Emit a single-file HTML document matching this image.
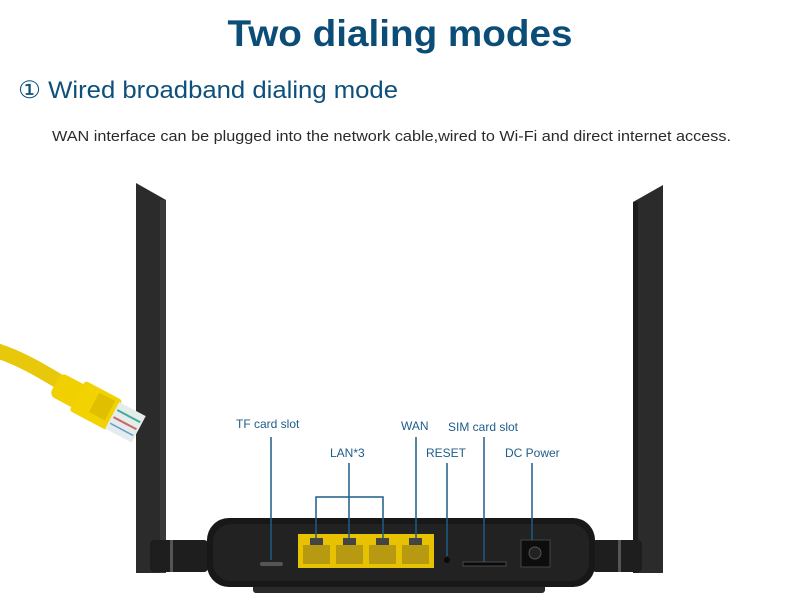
<!DOCTYPE html>
<html><head><meta charset="utf-8"><style>
html,body{margin:0;padding:0;background:#fff;}
svg{display:block;}
</style></head><body>
<svg width="800" height="616" viewBox="0 0 800 616" xmlns="http://www.w3.org/2000/svg" font-family="Liberation Sans, Arial, sans-serif">
<rect width="800" height="616" fill="#fff"/>
<text x="400" y="46" text-anchor="middle" font-size="37" font-weight="bold" fill="#0c4d78" textLength="345" lengthAdjust="spacingAndGlyphs">Two dialing modes</text>
<text x="18" y="98" font-size="24" fill="#0e507c" textLength="380" lengthAdjust="spacingAndGlyphs">① Wired broadband dialing mode</text>
<text x="52" y="141" font-size="15" fill="#2a2a2a" textLength="679" lengthAdjust="spacingAndGlyphs">WAN interface can be plugged into the network cable,wired to Wi-Fi and direct internet access.</text>

<!-- antennas -->
<polygon points="136,183 166,200 166,573 136,573" fill="#2b2b2b"/>
<rect x="160" y="200" width="6" height="373" fill="#3a3a3a"/>
<polygon points="633,202 663,185 663,573 633,573" fill="#2b2b2b"/>
<rect x="633" y="202" width="5" height="371" fill="#1c1c1c"/>
<!-- hinges -->
<rect x="150" y="540" width="58" height="32" rx="4" fill="#1e1e1e"/>
<rect x="170" y="540" width="3" height="32" fill="#555"/>
<rect x="592" y="540" width="50" height="32" rx="4" fill="#1e1e1e"/>
<rect x="618" y="540" width="3" height="32" fill="#555"/>

<!-- cable -->
<path d="M-5,350 C20,358 40,370 60,382" stroke="#e8c80a" stroke-width="15" fill="none"/>
<g transform="translate(95,405) rotate(28)">
<rect x="-45" y="-13" width="30" height="26" rx="6" fill="#f0d000"/>
<rect x="-20" y="-17" width="42" height="34" rx="3" fill="#f2d200"/>
<rect x="-2" y="-13" width="18" height="22" fill="#e0bf00"/>
<rect x="20" y="-14" width="30" height="30" fill="#e4ecec"/>
<line x1="22" y1="-6" x2="48" y2="-6" stroke="#4a9" stroke-width="2"/>
<line x1="22" y1="2" x2="48" y2="2" stroke="#c66" stroke-width="2"/>
<line x1="22" y1="9" x2="48" y2="9" stroke="#69c" stroke-width="1.5"/>
</g>

<!-- router body -->
<rect x="253" y="584" width="292" height="9" rx="3" fill="#2a2a2a"/>
<rect x="207" y="518" width="388" height="69" rx="22" fill="#181818"/>
<rect x="213" y="524" width="376" height="57" rx="18" fill="#222"/>
<rect x="298" y="534" width="136" height="34" fill="#e6c200"/>
<g fill="#b89a12">
<rect x="303" y="545" width="27" height="19"/><rect x="336" y="545" width="27" height="19"/>
<rect x="369" y="545" width="27" height="19"/><rect x="402" y="545" width="27" height="19"/>
</g>
<g fill="#444">
<rect x="310" y="538" width="13" height="7"/><rect x="343" y="538" width="13" height="7"/>
<rect x="376" y="538" width="13" height="7"/><rect x="409" y="538" width="13" height="7"/>
</g>
<rect x="260" y="562" width="23" height="4" rx="2" fill="#555"/>
<circle cx="447" cy="560" r="3" fill="#0a0a0a"/>
<rect x="463" y="562" width="43" height="4" fill="#0a0a0a" stroke="#555" stroke-width="0.8"/>
<rect x="521" y="540" width="29" height="27" fill="#0d0d0d" stroke="#444" stroke-width="1"/>
<circle cx="535" cy="553" r="6" fill="#222" stroke="#555"/>

<!-- leader lines -->
<g stroke="#1d5d88" stroke-width="1.5" fill="none">
<line x1="271" y1="437" x2="271" y2="560"/>
<line x1="349" y1="463" x2="349" y2="538"/>
<polyline points="316,538 316,497 383,497 383,538"/>
<line x1="416" y1="437" x2="416" y2="538"/>
<line x1="447" y1="463" x2="447" y2="556"/>
<line x1="484" y1="437" x2="484" y2="562"/>
<line x1="532" y1="463" x2="532" y2="540"/>
</g>
<g font-size="12" fill="#1d5d88">
<text x="236" y="428">TF card slot</text>
<text x="330" y="457">LAN*3</text>
<text x="401" y="430">WAN</text>
<text x="426" y="457">RESET</text>
<text x="448" y="431">SIM card slot</text>
<text x="505" y="457">DC Power</text>
</g>
</svg>
</body></html>
